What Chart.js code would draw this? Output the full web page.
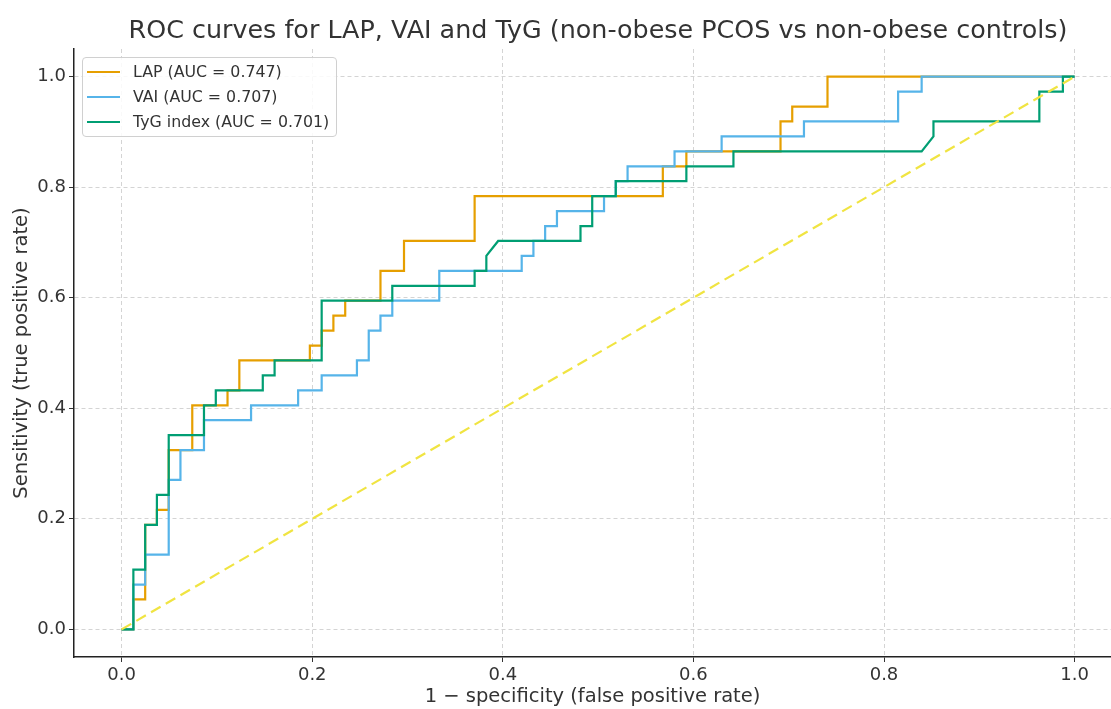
<!DOCTYPE html>
<html>
<head>
<meta charset="utf-8">
<script src="https://cdn.jsdelivr.net/npm/chart.js@4.4.1/dist/chart.umd.min.js"></script>
<style>
    body { margin: 0; background: #fff; }
    #wrap { position: relative; width: 1111px; height: 709px; }
    #legend {
        position: absolute; left: 82px; top: 57px; width: 255px; height: 80px;
        box-sizing: border-box; border: 1px solid #d0d0d0; border-radius: 4px;
        background: rgba(255, 255, 255, 0.85); padding-top: 1px;
        font-family: "DejaVu Sans", sans-serif; font-size: 15.8px; color: #333;
    }
    .row { display: flex; align-items: center; height: 25px; }
    .swatch { width: 33px; height: 2px; margin-left: 4px; margin-right: 13px; }
</style>
</head>
<body>
<div id="wrap">
    <canvas id="roc" width="1111" height="709"></canvas>
    <div id="legend"></div>
</div>
<script>
// false positive rate / true positive rate
const lapFpr = [0, 0.0123, 0.0123, 0.0247, 0.0247, 0.0370, 0.0370, 0.0494, 0.0494, 0.0741, 0.0741, 0.1111, 0.1111, 0.1235, 0.1235, 0.1975, 0.1975, 0.2099, 0.2099, 0.2222, 0.2222, 0.2346, 0.2346, 0.2716, 0.2716, 0.2963, 0.2963, 0.3704, 0.3704, 0.5679, 0.5679, 0.5926, 0.5926, 0.6914, 0.6914, 0.7037, 0.7037, 0.7407, 0.7407, 1.0];
const lapTpr = [0, 0, 0.0541, 0.0541, 0.1892, 0.1892, 0.2162, 0.2162, 0.3243, 0.3243, 0.4054, 0.4054, 0.4324, 0.4324, 0.4865, 0.4865, 0.5135, 0.5135, 0.5405, 0.5405, 0.5676, 0.5676, 0.5946, 0.5946, 0.6486, 0.6486, 0.7027, 0.7027, 0.7838, 0.7838, 0.8378, 0.8378, 0.8649, 0.8649, 0.9189, 0.9189, 0.9459, 0.9459, 1.0, 1.0];

const vaiFpr = [0, 0.0123, 0.0123, 0.0247, 0.0247, 0.0494, 0.0494, 0.0617, 0.0617, 0.0864, 0.0864, 0.1358, 0.1358, 0.1852, 0.1852, 0.2099, 0.2099, 0.2469, 0.2469, 0.2593, 0.2593, 0.2716, 0.2716, 0.2840, 0.2840, 0.3333, 0.3333, 0.4198, 0.4198, 0.4321, 0.4321, 0.4444, 0.4444, 0.4568, 0.4568, 0.5062, 0.5062, 0.5185, 0.5185, 0.5309, 0.5309, 0.5802, 0.5802, 0.6296, 0.6296, 0.7160, 0.7160, 0.8148, 0.8148, 0.8395, 0.8395, 1.0];
const vaiTpr = [0, 0, 0.0811, 0.0811, 0.1351, 0.1351, 0.2703, 0.2703, 0.3243, 0.3243, 0.3784, 0.3784, 0.4054, 0.4054, 0.4324, 0.4324, 0.4595, 0.4595, 0.4865, 0.4865, 0.5405, 0.5405, 0.5676, 0.5676, 0.5946, 0.5946, 0.6486, 0.6486, 0.6757, 0.6757, 0.7027, 0.7027, 0.7297, 0.7297, 0.7568, 0.7568, 0.7838, 0.7838, 0.8108, 0.8108, 0.8378, 0.8378, 0.8649, 0.8649, 0.8919, 0.8919, 0.9189, 0.9189, 0.9730, 0.9730, 1.0, 1.0];

const tygFpr = [0, 0.0123, 0.0123, 0.0247, 0.0247, 0.0370, 0.0370, 0.0494, 0.0494, 0.0864, 0.0864, 0.0988, 0.0988, 0.1481, 0.1481, 0.1605, 0.1605, 0.2099, 0.2099, 0.2840, 0.2840, 0.3704, 0.3704, 0.3827, 0.3827, 0.3951, 0.4815, 0.4815, 0.4938, 0.4938, 0.5185, 0.5185, 0.5926, 0.5926, 0.6420, 0.6420, 0.8395, 0.8519, 0.8519, 0.9630, 0.9630, 0.9877, 0.9877, 1.0];
const tygTpr = [0, 0, 0.1081, 0.1081, 0.1892, 0.1892, 0.2432, 0.2432, 0.3514, 0.3514, 0.4054, 0.4054, 0.4324, 0.4324, 0.4595, 0.4595, 0.4865, 0.4865, 0.5946, 0.5946, 0.6216, 0.6216, 0.6486, 0.6486, 0.6757, 0.7027, 0.7027, 0.7297, 0.7297, 0.7838, 0.7838, 0.8108, 0.8108, 0.8378, 0.8378, 0.8649, 0.8649, 0.8919, 0.9189, 0.9189, 0.9730, 0.9730, 1.0, 1.0];

const chanceX = [0, 1];
const chanceY = [0, 1];

const seriesLabels = ['LAP (AUC = 0.747)', 'VAI (AUC = 0.707)', 'TyG index (AUC = 0.701)'];
const xTicks = [0.0, 0.2, 0.4, 0.6, 0.8, 1.0];
const yTicks = [0.0, 0.2, 0.4, 0.6, 0.8, 1.0];

const FONT = '"DejaVu Sans", sans-serif';
const TEXT = '#333333';

function pts(xs, ys) {
    return xs.map(function (x, i) { return { x: x, y: ys[i] }; });
}

const colors = ['#E69F00', '#56B4E9', '#009E73'];

const data = {
    datasets: [
        { label: seriesLabels[0], data: pts(lapFpr, lapTpr), borderColor: colors[0], order: 3 },
        { label: seriesLabels[1], data: pts(vaiFpr, vaiTpr), borderColor: colors[1], order: 2 },
        { label: seriesLabels[2], data: pts(tygFpr, tygTpr), borderColor: colors[2], order: 1 },
        { label: 'chance', data: pts(chanceX, chanceY), borderColor: '#F0E442', borderDash: [11, 6], order: 0 }
    ]
};

// title drawn over the full axes (matplotlib centres it on the uncropped axes)
const titlePlugin = {
    id: 'topTitle',
    afterDraw: function (chart) {
        const ctx = chart.ctx;
        ctx.save();
        ctx.font = '25.4px ' + FONT;
        ctx.fillStyle = TEXT;
        ctx.textAlign = 'center';
        ctx.textBaseline = 'middle';
        ctx.fillText('ROC curves for LAP, VAI and TyG (non-obese PCOS vs non-obese controls)', 598, 31);
        ctx.restore();
    }
};

function axisOpts(ticksList, titleText, isX) {
    return {
        type: 'linear',
        min: -0.05,
        max: isX ? 1.0382 : 1.05,
        afterBuildTicks: function (axis) {
            axis.ticks = ticksList.map(function (v) { return { value: v }; });
        },
        afterFit: function (scale) {
            if (isX) scale.height = 52; else scale.width = 74;
        },
        ticks: {
            font: { family: FONT, size: 18 },
            color: TEXT,
            padding: 3,
            callback: function (v) { return Number(v).toFixed(1); }
        },
        grid: {
            color: '#d4d4d4',
            lineWidth: 1,
            tickColor: '#333',
            tickLength: 5,
            tickWidth: 1,
            tickBorderDash: []
        },
        border: { display: true, color: '#222', width: 1.5, dash: [4, 3] },
        title: {
            display: true,
            text: titleText,
            font: { family: FONT, size: 19.5 },
            color: TEXT,
            padding: isX ? { top: 2, bottom: 0 } : { top: 10, bottom: 0 }
        }
    };
}

const config = {
    type: 'line',
    data: data,
    options: {
        responsive: false,
        animation: false,
        devicePixelRatio: 1,
        layout: { padding: { top: 49, right: 0, bottom: 0, left: 0 } },
        elements: {
            point: { radius: 0, hoverRadius: 0 },
            line: { borderWidth: 2.2, tension: 0, fill: false }
        },
        scales: {
            x: axisOpts(xTicks, '1 \u2212 specificity (false positive rate)', true),
            y: axisOpts(yTicks, 'Sensitivity (true positive rate)', false)
        },
        plugins: {
            legend: { display: false },
            tooltip: { enabled: false },
            title: { display: false }
        }
    },
    plugins: [titlePlugin]
};

new Chart(document.getElementById('roc'), config);

// html legend
var leg = document.getElementById('legend');
for (var i = 0; i < seriesLabels.length; i++) {
    var row = document.createElement('div');
    row.className = 'row';
    row.innerHTML = '<span class="swatch" style="background:' + colors[i] + '"></span><span>' + seriesLabels[i] + '</span>';
    leg.appendChild(row);
}
</script>
</body>
</html>
